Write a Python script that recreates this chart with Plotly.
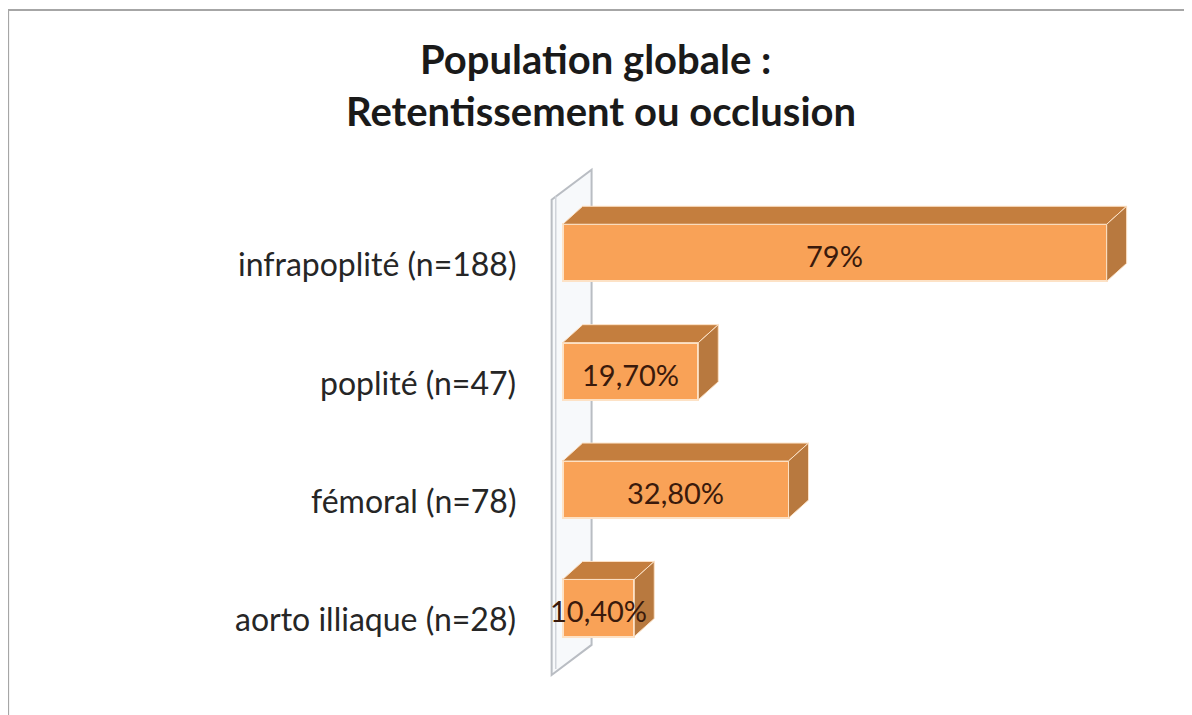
import plotly.graph_objects as go

categories = ["infrapoplité (n=188)", "poplité (n=47)", "fémoral (n=78)", "aorto illiaque (n=28)"]
values = [79, 19.7, 32.8, 10.4]
value_labels = ["79%", "19,70%", "32,80%", "10,40%"]
title_lines = ["Population globale :", "Retentissement ou occlusion"]

FRONT = "#F9A257"
TOP = "#C47E3E"
SIDE = "#B8793F"
EDGE = "#FDE2C6"
TXT = "#262626"
LBL = "#3A1A0C"

order = list(reversed(categories))  # bottom -> top
idx = {c: order.index(c) for c in categories}

bw = 0.482          # bar thickness (category units)
ddx = 2.9           # depth offset x (value units)
ddy = 0.152         # depth offset y (category units)

fig = go.Figure()
fig.add_trace(go.Bar(
    y=categories, x=values, orientation="h", width=bw,
    marker=dict(color=FRONT, line=dict(color=EDGE, width=2)),
    hoverinfo="skip", showlegend=False,
))

shapes = []
# back wall (thin 3D slab)
wy0, wy1 = -0.566, 3.448
wx0, wx1 = -1.6, 4.2
wdy = 0.254
shapes.append(dict(type="path", xref="x", yref="y", layer="below",
                   path=f"M{wx0},{wy0} L{wx1},{wy0+wdy} L{wx1},{wy1+wdy} L{wx0},{wy1} Z",
                   fillcolor="#F7F9FB", line=dict(color="#B9BDC3", width=2)))
shapes.append(dict(type="path", xref="x", yref="y", layer="below",
                   path=f"M{wx0+0.6},{wy0+0.05} L{wx0+0.6},{wy1+0.03}",
                   line=dict(color="#D0D4DA", width=1.5)))

for c, v in zip(categories, values):
    i = idx[c]
    yt, yb = i + bw / 2, i - bw / 2
    # top face
    shapes.append(dict(type="path", xref="x", yref="y", layer="above",
                       path=f"M0,{yt} L{v},{yt} L{v+ddx},{yt+ddy} L{ddx},{yt+ddy} Z",
                       fillcolor=TOP, line=dict(color=EDGE, width=1)))
    # side face
    shapes.append(dict(type="path", xref="x", yref="y", layer="above",
                       path=f"M{v},{yb} L{v},{yt} L{v+ddx},{yt+ddy} L{v+ddx},{yb+ddy} Z",
                       fillcolor=SIDE, line=dict(color=EDGE, width=1)))

# outer frame
shapes.append(dict(type="rect", xref="paper", yref="paper",
                   x0=-0.881, x1=1.069, y0=-0.09, y1=1.299,
                   line=dict(color="#A6A6A6", width=2), fillcolor="rgba(0,0,0,0)"))

annotations = []
for c, v, t in zip(categories, values, value_labels):
    annotations.append(dict(x=v / 2, y=idx[c], xref="x", yref="y", text=t,
                            showarrow=False, yshift=-3,
                            font=dict(family="Lato", size=29, color=LBL)))
    annotations.append(dict(x=0, y=idx[c], xref="paper", yref="y", text=c,
                            showarrow=False, xanchor="right", xshift=-24, yshift=-11,
                            font=dict(family="Lato", size=32, color=TXT)))

for line, px, py in zip(title_lines, [0.089, 0.097], [1.203, 1.102]):
    annotations.append(dict(x=px, y=py, xref="paper", yref="paper", text="<b>" + line + "</b>",
                            showarrow=False, xanchor="center", yanchor="middle",
                            font=dict(family="Lato", size=40, color="#1a1a1a")))

fig.update_layout(
    width=1184, height=707,
    margin=dict(l=534, r=44, t=156, b=36),
    paper_bgcolor="white", plot_bgcolor="white",
    xaxis=dict(range=[-3, 85], visible=False),
    yaxis=dict(type="category", categoryarray=order, range=[-0.6, 3.75],
               visible=False),
    shapes=shapes, annotations=annotations, bargap=0,
)

fig.write_html("out.html")
